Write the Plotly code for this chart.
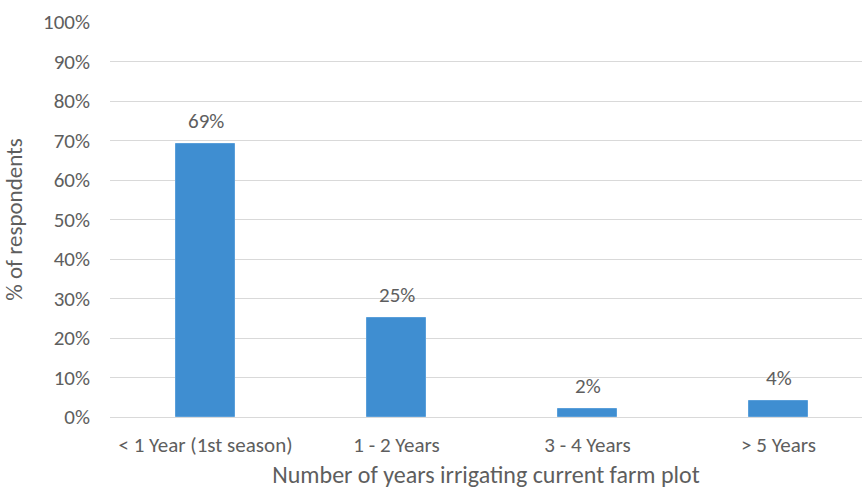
import plotly.graph_objects as go

categories = ["< 1 Year (1st season)", "1 - 2 Years", "3 - 4 Years", "> 5 Years"]
values = [69, 25, 2, 4]
labels = ["69%", "25%", "2%", "4%"]
y_ticks = list(range(0, 101, 10))
y_tick_text = [f"{v}%" for v in y_ticks]

font_family = "Carlito, Lato, sans-serif"
grey = "#5E5E5E"

fig = go.Figure()
fig.add_trace(go.Bar(
    x=list(range(len(categories))),
    y=values,
    width=0.31,
    marker=dict(color="#3F8ED1", line=dict(color="#5A9FDA", width=1)),
    hoverinfo="skip",
))

for i, (v, t) in enumerate(zip(values, labels)):
    fig.add_annotation(x=i, y=v, text=t, showarrow=False, yanchor="bottom",
                       yshift=8, font=dict(size=21, color=grey, family=font_family))

fig.update_layout(
    width=862, height=489,
    margin=dict(l=110, r=0, t=22, b=72),
    plot_bgcolor="white", paper_bgcolor="white",
    showlegend=False,
    font=dict(family=font_family, color=grey, size=16),
    bargap=0,
)
fig.update_xaxes(
    tickmode="array", tickvals=list(range(len(categories))), ticktext=categories,
    range=[-0.5, 3.437], showgrid=False, zeroline=False, showline=False,
    ticks="", tickfont=dict(size=21, color=grey), ticklabelstandoff=13,
    title=dict(text="Number of years irrigating current farm plot",
               font=dict(size=24, color=grey), standoff=14),
)
fig.update_yaxes(
    tickmode="array", tickvals=y_ticks, ticktext=y_tick_text,
    range=[0, 100], showgrid=True, gridcolor="#D9D9D9", gridwidth=1.3,
    zeroline=True, zerolinecolor="#D9D9D9", zerolinewidth=1.3,
    showline=False, ticks="", tickfont=dict(size=21, color=grey), ticklabelstandoff=19,
    title=dict(text="% of respondents", font=dict(size=23, color=grey), standoff=20),
)
fig.write_html("out.html")
